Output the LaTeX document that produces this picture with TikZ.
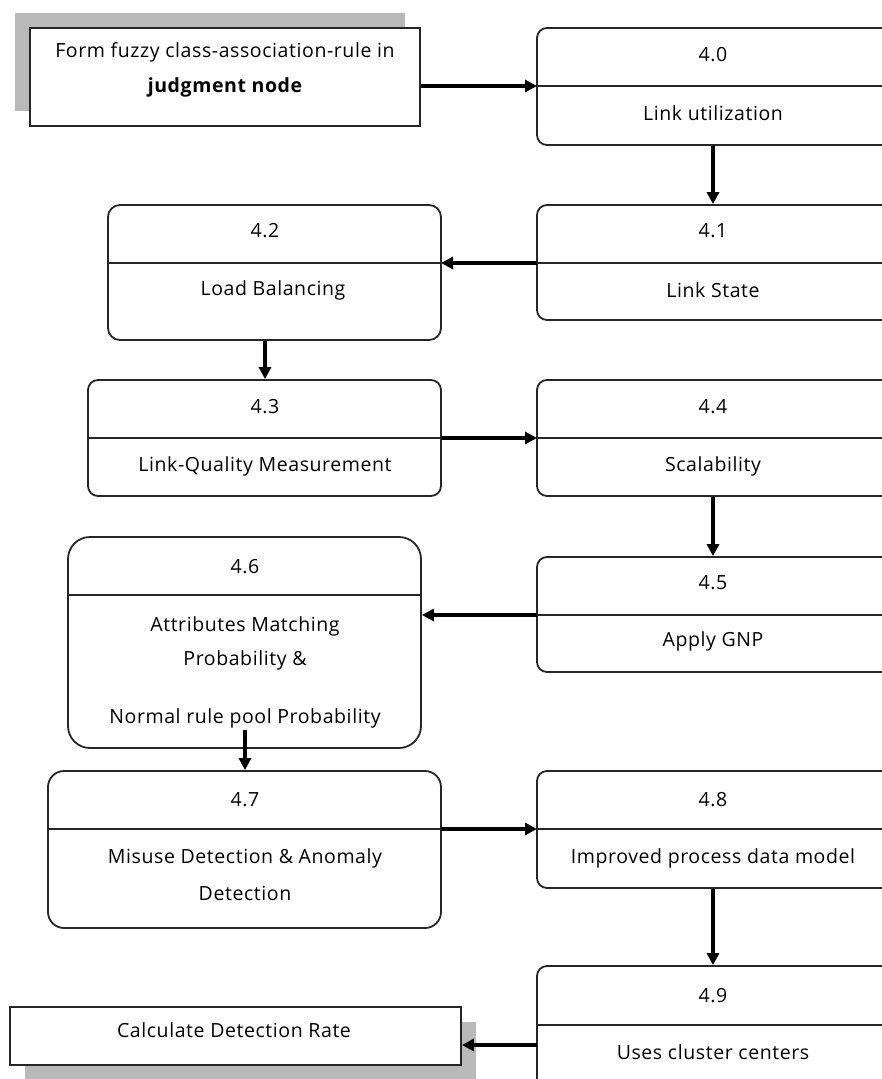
\documentclass[tikz,border=0pt]{standalone}
\usepackage{fontspec}
\setmainfont{Open Sans}[LetterSpace=3]
\usetikzlibrary{arrows.meta}
\begin{document}
\begin{tikzpicture}[x=1pt,y=-1pt,
  box/.style={draw=black!85,line width=1.8pt,fill=white,inner sep=0pt},
  shadowbox/.style={fill=gray!55,draw=none,inner sep=0pt},
  txt/.style={font=\fontsize{19.5}{23}\selectfont,inner sep=0pt,anchor=center},
  arr/.style={line width=3.2pt,-{Triangle[length=12pt,width=12pt]}},
  div/.style={draw=black!85,line width=1.8pt}]
\useasboundingbox (0,0) rectangle (882,1079);
\clip (0,0) rectangle (882,1079);
\fill[white] (0,0) rectangle (882,1079);

% Start box with shadow
\node[shadowbox,minimum width=390pt,minimum height=98pt] (Fs) at (210,62) {};
\node[box,minimum width=390pt,minimum height=98pt] (F) at (225,77) {};
\node[txt] (Ft1) at (225,52) {Form fuzzy class-association-rule in};
\node[txt] (Ft2) at (225,87) {\bfseries judgment node};

% 4.0
\node[box,rounded corners=10pt,minimum width=363pt,minimum height=117pt] (b40) at (718.5,86.5) {};
\coordinate (d40l) at (537,86); \coordinate (d40r) at (900,86);
\draw[div] (d40l) -- (d40r);
\node[txt] (n40) at (713,55) {4.0};
\node[txt] (l40) at (713,113) {Link utilization};

% 4.1
\node[box,rounded corners=10pt,minimum width=363pt,minimum height=115pt] (b41) at (718.5,262.5) {};
\coordinate (d41l) at (537,263); \coordinate (d41r) at (900,263);
\draw[div] (d41l) -- (d41r);
\node[txt] (n41) at (713,231) {4.1};
\node[txt] (l41) at (713,290) {Link State};

% 4.2
\node[box,rounded corners=12pt,minimum width=333pt,minimum height=135pt] (b42) at (274.5,272.5) {};
\coordinate (d42l) at (108,263); \coordinate (d42r) at (441,263);
\draw[div] (d42l) -- (d42r);
\node[txt] (n42) at (265,231) {4.2};
\node[txt] (l42) at (273,290) {Load Balancing};

% 4.3
\node[box,rounded corners=10pt,minimum width=353pt,minimum height=116pt] (b43) at (264.5,438) {};
\coordinate (d43l) at (88,438); \coordinate (d43r) at (441,438);
\draw[div] (d43l) -- (d43r);
\node[txt] (n43) at (265,407) {4.3};
\node[txt] (l43) at (265,466) {Link-Quality Measurement};

% 4.4
\node[box,rounded corners=10pt,minimum width=363pt,minimum height=116pt] (b44) at (718.5,438) {};
\coordinate (d44l) at (537,438); \coordinate (d44r) at (900,438);
\draw[div] (d44l) -- (d44r);
\node[txt] (n44) at (713,407) {4.4};
\node[txt] (l44) at (713,466) {Scalability};

% 4.5
\node[box,rounded corners=10pt,minimum width=363pt,minimum height=115pt] (b45) at (718.5,614.5) {};
\coordinate (d45l) at (537,615); \coordinate (d45r) at (900,615);
\draw[div] (d45l) -- (d45r);
\node[txt] (n45) at (713,583) {4.5};
\node[txt] (l45) at (713,641) {Apply GNP};

% 4.6
\node[box,rounded corners=22pt,minimum width=353pt,minimum height=211pt] (b46) at (244.5,642.5) {};
\coordinate (d46l) at (68,595); \coordinate (d46r) at (421,595);
\draw[div] (d46l) -- (d46r);
\node[txt] (n46) at (245,567) {4.6};
\node[txt] (l46a) at (245,626) {Attributes Matching};
\node[txt] (l46b) at (245,660) {Probability \&};
\node[txt] (l46c) at (245,718) {Normal rule pool Probability};
\coordinate (s46) at (245,730);

% 4.7
\node[box,rounded corners=16pt,minimum width=393pt,minimum height=157pt] (b47) at (244.5,849.5) {};
\coordinate (d47l) at (48,829); \coordinate (d47r) at (441,829);
\draw[div] (d47l) -- (d47r);
\node[txt] (n47) at (245,800) {4.7};
\node[txt] (l47a) at (245,858) {Misuse Detection \& Anomaly};
\node[txt] (l47b) at (245,893) {Detection};

% 4.8
\node[box,rounded corners=10pt,minimum width=363pt,minimum height=117pt] (b48) at (718.5,829.5) {};
\coordinate (d48l) at (537,829); \coordinate (d48r) at (900,829);
\draw[div] (d48l) -- (d48r);
\node[txt] (n48) at (713,800) {4.8};
\node[txt] (l48) at (713,858) {Improved process data model};

% 4.9
\node[box,rounded corners=10pt,minimum width=363pt,minimum height=124pt] (b49) at (718.5,1028) {};
\coordinate (d49l) at (537,1025); \coordinate (d49r) at (900,1025);
\draw[div] (d49l) -- (d49r);
\node[txt] (n49) at (713,996) {4.9};
\node[txt] (l49) at (713,1052) {Uses cluster centers};

% Calculate box with shadow
\node[shadowbox,minimum width=451pt,minimum height=58pt] (Cs) at (250.5,1051) {};
\node[box,minimum width=451pt,minimum height=58pt] (C) at (235.5,1036) {};
\node[txt] (Ct) at (234,1030) {Calculate Detection Rate};

% Connectors
\draw[arr] (F.east |- d40l) -- (d40l);
\draw[arr] (b40.south -| n40) -- (b41.north -| n41);
\draw[arr] (d41l) -- (d42r);
\draw[arr] (b42.south -| n42) -- (b43.north -| n43);
\draw[arr] (d43r) -- (d44l);
\draw[arr] (b44.south -| n44) -- (b45.north -| n45);
\draw[arr] (d45l) -- (b46.east |- d45l);
\draw[arr] (s46) -- (b47.north -| s46);
\draw[arr] (d47r) -- (d48l);
\draw[arr] (b48.south -| n48) -- (b49.north -| n49);
\coordinate (s49) at (537,1045);
\draw[arr] (s49) -- (C.east |- s49);
\end{tikzpicture}
\end{document}
